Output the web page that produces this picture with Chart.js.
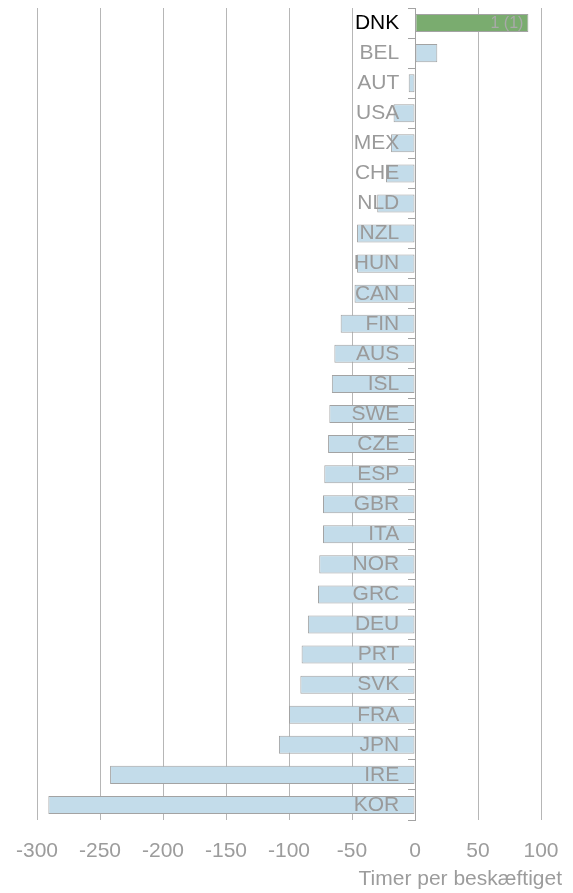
<!DOCTYPE html>
<html>
<head>
<meta charset="utf-8">
<script src="https://cdn.jsdelivr.net/npm/chart.js@4"></script>
<style>
html,body{margin:0;padding:0;background:#fff;}
#wrap{width:573px;height:893px;position:relative;}
</style>
</head>
<body>
<div id="wrap"><canvas id="c"></canvas></div>
<script>
const categories = ['DNK','BEL','AUT','USA','MEX','CHE','NLD','NZL','HUN','CAN','FIN','AUS','ISL','SWE','CZE','ESP','GBR','ITA','NOR','GRC','DEU','PRT','SVK','FRA','JPN','IRE','KOR'];
const values = [90, 17.7, -5, -17, -19, -23, -30, -46, -46, -48, -59, -64, -66, -68, -69, -72, -73, -73, -76, -77, -85, -90, -91, -100, -108, -242, -291];
const barNotes = ['1 (1)'];
const xTicks = [-300, -250, -200, -150, -100, -50, 0, 50, 100];
const xTitle = 'Timer per beskæftiget';
const highlight = 'DNK';

const FONT = '"Liberation Sans", Arial, sans-serif';

const noteLabels = {
  id: 'noteLabels',
  afterDatasetsDraw(chart) {
    const meta = chart.getDatasetMeta(0);
    const ctx = chart.ctx;
    ctx.save();
    ctx.font = '16px ' + FONT;
    ctx.fillStyle = '#a9a9a9';
    ctx.textAlign = 'right';
    ctx.textBaseline = 'middle';
    barNotes.forEach((t, i) => {
      if (!t) return;
      const el = meta.data[i];
      ctx.fillText(t, el.x - 5, el.y + 1);
    });
    ctx.restore();
  }
};

// let the x-axis title run past the plot's right edge, as in the original
const titleShift = {
  id: 'titleShift',
  afterLayout(chart) {
    chart.scales.x.right = chart.width - 11;
  }
};

const zeroFit = (s) => { s.width = 0; s.paddingTop = 0; s.paddingBottom = 0; s.paddingLeft = 0; s.paddingRight = 0; };

new Chart(document.getElementById('c'), {
  type: 'bar',
  data: {
    labels: categories,
    datasets: [{
      data: values,
      yAxisID: 'y',
      backgroundColor: categories.map(c => c === highlight ? '#7aac6f' : '#c3dcea'),
      borderColor: '#a3a3a3',
      borderWidth: 1,
      borderSkipped: false,
      barPercentage: 0.6,
      categoryPercentage: 1.0
    }]
  },
  options: {
    indexAxis: 'y',
    responsive: true,
    maintainAspectRatio: false,
    animation: false,
    layout: { padding: { left: 37, right: 32, top: 8, bottom: 1 } },
    plugins: { legend: { display: false }, tooltip: { enabled: false } },
    scales: {
      x: {
        type: 'linear',
        min: -300,
        max: 100,
        afterBuildTicks: (s) => { s.ticks = xTicks.map(v => ({ value: v })); },
        afterFit: (s) => { s.height = 72; s.paddingLeft = 0; s.paddingRight = 0; },
        grid: { color: '#b6b6b6', lineWidth: 1, drawTicks: false },
        border: { display: false },
        ticks: { color: '#9c9c9c', font: { family: FONT, size: 21 }, padding: 19, maxRotation: 0 },
        title: {
          display: true, text: xTitle, align: 'end', color: '#9c9c9c',
          font: { family: FONT, size: 21 }, padding: { top: 2, bottom: 0 }
        }
      },
      y: {
        type: 'category',
        position: { x: 0 },
        offset: true,
        afterFit: zeroFit,
        grid: { drawOnChartArea: false, drawTicks: true, tickLength: 7, offset: true, color: '#a3a3a3', z: 1 },
        border: { display: true, color: '#a3a3a3', z: 1 },
        ticks: { display: false }
      },
      yLabels: {
        type: 'category',
        axis: 'y',
        position: { x: -12.5 },
        offset: true,
        afterFit: zeroFit,
        grid: { display: false },
        border: { display: false },
        ticks: {
          z: 2,
          font: { family: FONT, size: 21 },
          color: (ctx) => categories[ctx.index] === highlight ? '#000000' : '#9a9a9a',
          padding: 0,
          autoSkip: false
        }
      }
    }
  },
  plugins: [noteLabels, titleShift]
});
</script>
</body>
</html>
